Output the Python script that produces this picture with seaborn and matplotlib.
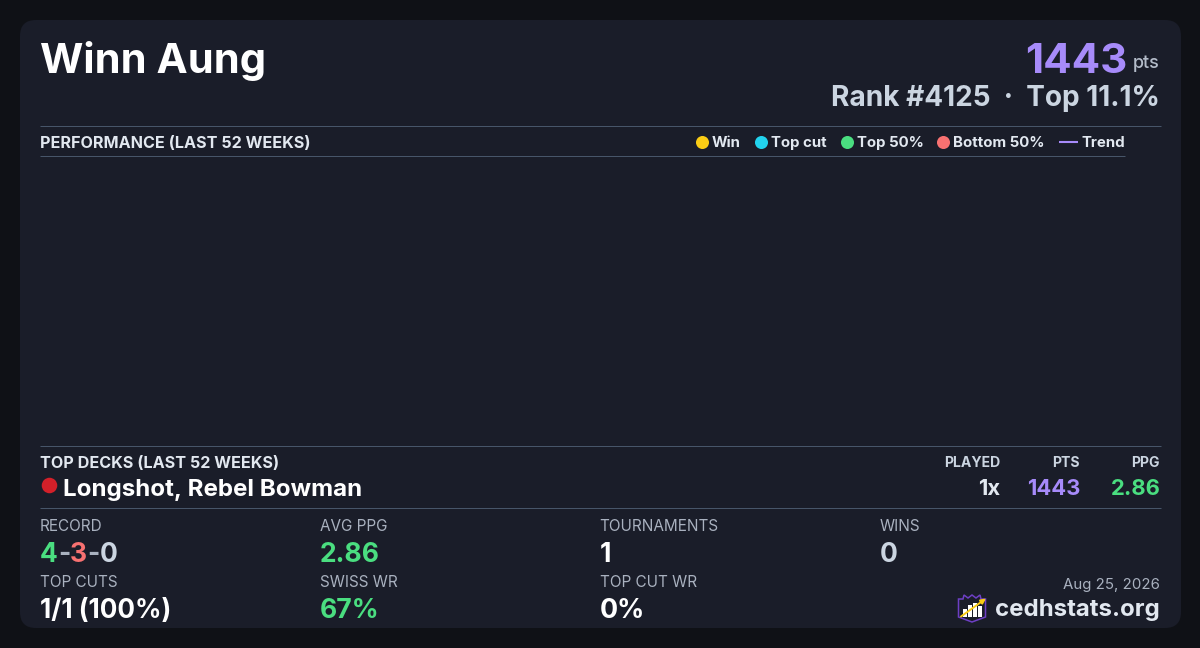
import matplotlib
matplotlib.use("Agg")
import matplotlib.pyplot as plt
import pandas as pd
import seaborn as sns
from matplotlib.patches import FancyBboxPatch, Polygon, Rectangle

# data
PLAYER = "Winn Aung"
POINTS = "1443"
RANK_LINE = "Rank #4125  ·  Top 11.1%"
DECK = "Longshot, Rebel Bowman"
DECK_STATS = ["1x", "1443", "2.86"]
DECK_HEADERS = ["PLAYED", "PTS", "PPG"]
LEGEND_NAMES = ["Win", "Top cut", "Top 50%", "Bottom 50%"]
# the performance chart has no events in it
event_weeks = []
event_points = []
event_result = []

# colours
BG = "#0f1116"
CARD = "#1a1d29"
RULE = "#475569"
WHITE = "#ffffff"
LIGHT = "#e2e8f0"
GREY = "#a9b1bf"
SILVER = "#cbd5e1"
PURPLE = "#a78bfa"
GREEN = "#4ade80"
RED = "#f87171"
DECK_RED = "#d32029"
LEGEND_COLORS = ["#facc15", "#22d3ee", "#4ade80", "#f87171"]

sns.set_theme(style="dark")
plt.rcParams["font.family"] = ["Inter", "DejaVu Sans"]

fig = plt.figure(figsize=(12, 6.48), dpi=100, facecolor=BG)
bg = fig.add_axes([0, 0, 1, 1])
bg.set_xlim(0, 1200)
bg.set_ylim(648, 0)
bg.axis("off")
bg.add_patch(FancyBboxPatch((20, 20), 1161, 608, boxstyle="round,pad=0,rounding_size=16",
                            fc=CARD, ec="none"))


def label(x, y, s, px, color, weight="normal", ha="left"):
    return bg.text(x, y, s, fontsize=px * 0.72, color=color, fontweight=weight,
                   ha=ha, va="baseline")


def label_runs(x, y, runs, px, weight="normal"):
    # coloured pieces of text one after the other
    rend = fig.canvas.get_renderer()
    for s, color in runs:
        t = label(x, y, s, px, color, weight)
        x += t.get_window_extent(rend).width


def rule(x0, x1, y):
    bg.plot([x0, x1], [y, y], color=RULE, lw=0.72, solid_capstyle="butt")


# header
label(40, 73, PLAYER, 41.8, WHITE, "bold")
label(1127, 73, POINTS, 42, PURPLE, "bold", ha="right")
label(1160, 68, "pts", 18, "#b4bcc9", "medium", ha="right")
label(1159.5, 106, RANK_LINE, 28, SILVER, "bold", ha="right")

# performance section
rule(40, 1160.5, 126)
rule(40, 1125, 156)
label(40, 148, "PERFORMANCE (LAST 52 WEEKS)", 16.15, LIGHT, "bold")

for x, name, color in zip([702.3, 761.3, 847.3, 943.3], LEGEND_NAMES, LEGEND_COLORS):
    bg.scatter([x], [141.5], s=88, color=color, linewidths=0)
    label(x + 9.7, 147, name, 15, LIGHT, "bold")
bg.plot([1059, 1078], [141.5, 141.5], color=PURPLE, lw=1.5, solid_capstyle="butt")
label(1081, 147, "Trend", 15, LIGHT, "bold")

# empty chart drawn through seaborn
events = pd.DataFrame({"week": event_weeks, "pts": event_points, "result": event_result})
ax = fig.add_axes([40 / 1200, 1 - 446 / 648, 1085 / 1200, 289 / 648], facecolor=CARD)
sns.scatterplot(data=events, x="week", y="pts", ax=ax, legend=False)
ax.axis("off")

# top decks
rule(40, 1160.5, 446)
label(40, 468, "TOP DECKS (LAST 52 WEEKS)", 16.15, LIGHT, "bold")
for x, s in zip([1000, 1080, 1160], DECK_HEADERS):
    label(x, 467, s, 14, SILVER, "bold", ha="right")
bg.scatter([48.5], [484.5], s=125, color=DECK_RED, linewidths=0)
label(63, 496, DECK, 24.1, WHITE, "bold")
for x, s, color in zip([1000, 1080, 1160], DECK_STATS, [LIGHT, PURPLE, GREEN]):
    label(x + 0.5, 495, s, 22, color, "bold", ha="right")
rule(40, 1160.5, 508)

# stats
for x, y, s in [(40, 531, "RECORD"), (320, 531, "AVG PPG"), (599.5, 531, "TOURNAMENTS"), (880, 531, "WINS"),
                (40, 587, "TOP CUTS"), (320, 587, "SWISS WR"), (600, 587, "TOP CUT WR")]:
    label(x, y, s, 15.3, GREY)

label_runs(40, 562, [("4", GREEN), ("-", GREY), ("3", RED), ("-", GREY), ("0", SILVER)], 26.5, "bold")
label(320, 562, "2.86", 26.5, GREEN, "bold")
label(600, 562, "1", 26.5, WHITE, "bold")
label(880, 562, "0", 26.5, SILVER, "bold")
label(40, 618, "1/1 (100%)", 26.1, WHITE, "bold")
label(320, 618, "67%", 26.5, GREEN, "bold")
label(600, 618, "0%", 26.8, WHITE, "bold")

# footer and logo
label(1160, 589, "Aug 25, 2026", 15, GREY, ha="right")
label(1160.2, 616, "cedhstats.org", 24, LIGHT, "bold", ha="right")

bg.add_patch(Polygon([(958.5, 599), (963, 599), (964, 595), (968, 598), (972, 595), (976, 598), (980, 595),
                      (981, 599), (985.5, 599), (985.5, 617), (972, 622), (958.5, 617)],
                     closed=True, fc="none", ec="#6d3fc4", lw=1.1))
for x, top in zip([962.5, 967.5, 972.5, 977.5], [609, 605, 603, 606]):
    bg.add_patch(Rectangle((x, top), 4, 617 - top, fc=WHITE, ec="none"))
bg.annotate("", xy=(986, 598.5), xytext=(961, 616.5),
            arrowprops=dict(arrowstyle="-|>", color="#facc15", lw=1.4, mutation_scale=7,
                            shrinkA=0, shrinkB=0))

fig.savefig("out.png", dpi=100, facecolor=BG)
